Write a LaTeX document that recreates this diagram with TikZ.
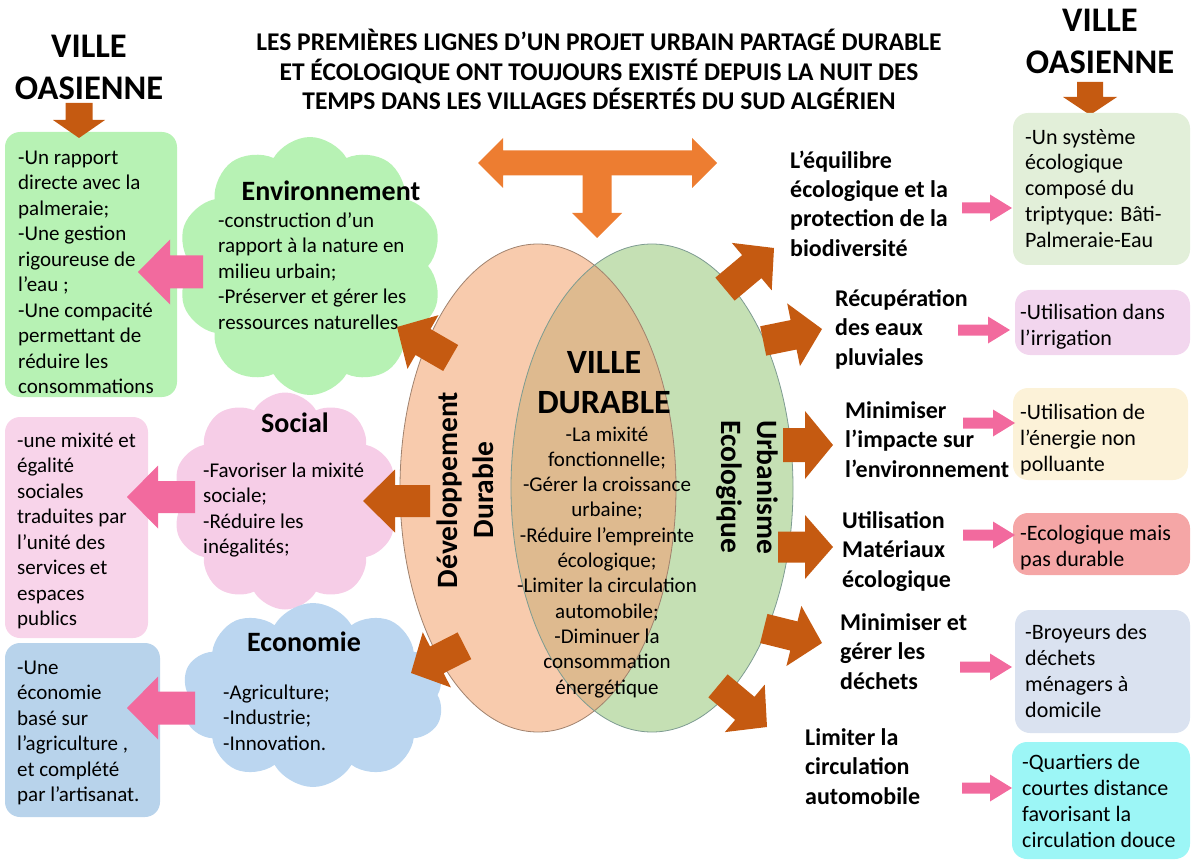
\documentclass[tikz,border=0pt]{standalone}
\usepackage{fontspec}
\setmainfont{Carlito}
\usetikzlibrary{shapes.symbols}
\definecolor{envgreen}{RGB}{183,242,180}
\definecolor{soccloud}{RGB}{246,205,231}
\definecolor{socbox}{RGB}{248,212,234}
\definecolor{ecocloud}{RGB}{187,214,240}
\definecolor{ecobox}{RGB}{184,211,235}
\definecolor{durorange}{RGB}{248,203,173}
\definecolor{urbgreen}{RGB}{197,224,180}
\definecolor{mixtan}{RGB}{222,186,143}
\definecolor{arrbrown}{RGB}{197,90,17}
\definecolor{arrorange}{RGB}{237,125,49}
\definecolor{arrpink}{RGB}{242,106,158}
\definecolor{rboxa}{RGB}{226,239,217}
\definecolor{rboxb}{RGB}{242,214,238}
\definecolor{rboxc}{RGB}{252,242,216}
\definecolor{rboxd}{RGB}{245,166,166}
\definecolor{rboxe}{RGB}{218,226,240}
\definecolor{rboxf}{RGB}{156,246,246}
% block arrow: tip, angle, length, half shaft, half head, head length, colour
\newcommand{\blockarr}[7]{%
  \fill[#7, shift={#1}, rotate=#2] (0,0) -- (-#6,#5) -- (-#6,#4) -- (-#3,#4) -- (-#3,-#4) -- (-#6,-#4) -- (-#6,-#5) -- cycle;}
\begin{document}
\begin{tikzpicture}[x=1pt, y=-1pt, line join=round,
  body/.style={font=\fontsize{21}{25.5}\selectfont, align=left, anchor=base west, inner sep=0pt},
  rbody/.style={body, font=\fontsize{22}{26}\selectfont},
  rhead/.style={font=\bfseries\fontsize{24}{29.5}\selectfont, align=left, anchor=base west, inner sep=0pt},
  ctitle/.style={font=\bfseries\fontsize{28}{32}\selectfont, anchor=base, inner sep=0pt},
  oasis/.style={font=\bfseries\fontsize{34.5}{42}\selectfont, align=center, anchor=base, inner sep=0pt},
  rbox/.style={rectangle, rounded corners=15pt, draw=none, inner sep=0pt},
  puff/.style={cloud, cloud puffs=10, cloud puff arc=120, cloud ignores aspect, draw=none, inner sep=0pt}]
\useasboundingbox (0,0) rectangle (1192,861);

\node[oasis] (oasisL) at (89,100) {VILLE\\OASIENNE};
\node[oasis] (oasisR) at (1100,74) {VILLE\\OASIENNE};
\node[font=\bfseries\fontsize{25.5}{29.5}\selectfont, align=center, anchor=base, inner sep=0pt] (title) at (599,110)
  {LES PREMIÈRES LIGNES D’UN PROJET URBAIN PARTAGÉ DURABLE\\ET ÉCOLOGIQUE ONT TOUJOURS EXISTÉ DEPUIS LA NUIT DES\\TEMPS DANS LES VILLAGES DÉSERTÉS DU SUD ALGÉRIEN};

\node[rbox, fill=envgreen, minimum width=172pt, minimum height=265pt] (bEnv) at (91,264.5) {};
\node[rbox, fill=socbox, minimum width=143pt, minimum height=221pt] (bSoc) at (76.5,527.5) {};
\node[rbox, fill=ecobox, minimum width=155pt, minimum height=174pt] (bEco) at (82.5,730) {};
\node[puff, fill=envgreen, minimum width=265pt, minimum height=258pt] (cEnv) at (310,266) {};
\node[puff, fill=soccloud, minimum width=225pt, minimum height=217pt] (cSoc) at (285,501) {};
\node[puff, fill=ecocloud, minimum width=263pt, minimum height=184pt] (cEco) at (313,695) {};

\node[body] (tEnvBox) at (18,393.5) {-Un rapport\\directe avec la\\palmeraie;\\-Une gestion\\rigoureuse de\\l’eau ;\\-Une compacité\\permettant de\\réduire les\\consommations};
\node[body] (tSocBox) at (17,625.5) {-une mixité et\\égalité\\sociales\\traduites par\\l’unité des\\services et\\espaces\\publics};
\node[body] (tEcoBox) at (17,801.5) {-Une\\économie\\basé sur\\l’agriculture ,\\et complété\\par l’artisanat.};

\node[ctitle] (hEnv) at (331,201) {Environnement};
\node[body] (tEnv) at (218,329) {-construction d’un\\rapport à la nature en\\milieu urbain;\\-Préserver et gérer les\\ressources naturelles};
\node[ctitle] (hSoc) at (295,432) {Social};
\node[body] (tSoc) at (203,553.5) {-Favoriser la mixité\\sociale;\\-Réduire les\\inégalités;};
\node[ctitle] (hEco) at (304,651) {Economie};
\node[body] (tEco) at (223,750) {-Agriculture;\\-Industrie;\\-Innovation.};

\fill[durorange] (538,488) ellipse [x radius=138, y radius=244];
\fill[urbgreen] (652,488) ellipse [x radius=141, y radius=244];
\begin{scope}
  \clip (538,488) ellipse [x radius=138, y radius=244];
  \fill[mixtan] (652,488) ellipse [x radius=141, y radius=244];
\end{scope}
\draw[line width=0.8pt, draw={rgb,255:red,160;green,130;blue,110}] (538,488) ellipse [x radius=138, y radius=244];
\draw[line width=0.8pt, draw={rgb,255:red,125;green,155;blue,145}] (652,488) ellipse [x radius=141, y radius=244];

\node[rotate=90, font=\bfseries\fontsize{29.5}{36}\selectfont, align=center] (dd) at (465,490) {Développement\\Durable};
\node[rotate=-90, font=\bfseries\fontsize{29.5}{36}\selectfont, align=center] (ue) at (747,487) {Urbanisme\\Ecologique};
\node[font=\bfseries\fontsize{34}{40}\selectfont, align=center, anchor=base, inner sep=0pt] (vd) at (604,413) {VILLE\\DURABLE};
\node[font=\fontsize{21}{25.3}\selectfont, align=center, anchor=base, inner sep=0pt] (vdList) at (607,694)
  {-La mixité\\fonctionnelle;\\-Gérer la croissance\\urbaine;\\-Réduire l’empreinte\\écologique;\\-Limiter la circulation\\automobile;\\-Diminuer la\\consommation\\énergétique};

\blockarr{(597,238)}{-90}{75}{14.5}{25}{25}{arrorange}
\fill[arrorange] (478,163) -- (503,138) -- (503,150.5) -- (692,150.5) -- (692,138) -- (717,163)
  -- (692,188) -- (692,175.5) -- (503,175.5) -- (503,188) -- cycle;

\blockarr{(79,138)}{-90}{35}{13.5}{26}{18}{arrbrown}
\blockarr{(1090,115)}{-90}{33}{13}{27}{18}{arrbrown}

\blockarr{(397,327)}{150}{62}{15}{31}{30}{arrbrown}
\blockarr{(363,501)}{180}{67}{16}{31.5}{32}{arrbrown}
\blockarr{(411,673)}{207}{60}{15}{31}{29}{arrbrown}
\blockarr{(774,248)}{40}{64}{15}{31}{29}{arrbrown}
\blockarr{(822,329)}{11.5}{60}{15}{32}{29}{arrbrown}
\blockarr{(833,445)}{0}{50}{17}{34}{28}{arrbrown}
\blockarr{(833,547)}{0}{55}{15.5}{32}{28}{arrbrown}
\blockarr{(822,643)}{-14}{60}{15}{31}{29}{arrbrown}
\blockarr{(767,727)}{-40}{64}{15}{31}{29}{arrbrown}

\blockarr{(138,272)}{180}{65}{16.5}{32.5}{32}{arrpink}
\blockarr{(127,497)}{180}{68}{16}{31.5}{31}{arrpink}
\blockarr{(127,708)}{180}{68}{16.5}{31.5}{31}{arrpink}

\node[rhead] (h1) at (790,256.5) {L’équilibre\\écologique et la\\protection de la\\biodiversité};
\node[rhead] (h2) at (835,365) {Récupération\\des eaux\\pluviales};
\node[rhead] (h3) at (845,477) {Minimiser\\l’impacte sur\\l’environnement};
\node[rhead] (h4) at (842,587) {Utilisation\\Matériaux\\écologique};
\node[rhead] (h5) at (840,689) {Minimiser et\\gérer les\\déchets};
\node[rhead] (h6) at (805,804) {Limiter la\\circulation\\automobile};

\node[rbox, fill=rboxa, minimum width=177pt, minimum height=152pt] (b1) at (1101.5,189) {};
\node[rbox, fill=rboxb, minimum width=175pt, minimum height=65pt] (b2) at (1102.5,322.5) {};
\node[rbox, fill=rboxc, minimum width=175pt, minimum height=92pt] (b3) at (1100.5,434) {};
\node[rbox, fill=rboxd, minimum width=177pt, minimum height=62pt] (b4) at (1101.5,544) {};
\node[rbox, fill=rboxe, minimum width=175pt, minimum height=123pt] (b5) at (1102.5,671.5) {};
\node[rbox, fill=rboxf, minimum width=178pt, minimum height=117pt] (b6) at (1101,800.5) {};

\node[rbody] (t1) at (1025,248) {-Un système\\écologique\\composé du\\triptyque: Bâti-\\Palmeraie-Eau};
\node[rbody] (t2) at (1020,345) {-Utilisation dans\\l’irrigation};
\node[rbody] (t3) at (1020,471) {-Utilisation de\\l’énergie non\\polluante};
\node[rbody] (t4) at (1020,566) {-Ecologique mais\\pas durable};
\node[rbody] (t5) at (1025,717) {-Broyeurs des\\déchets\\ménagers à\\domicile};
\node[rbody] (t6) at (1022,847) {-Quartiers de\\courtes distance\\favorisant la\\circulation douce};

\blockarr{(1012,208)}{0}{50}{5.5}{13.5}{22}{arrpink}
\blockarr{(1010,330)}{0}{52}{5.5}{13.5}{22}{arrpink}
\blockarr{(1015,423)}{0}{52}{5.5}{13.5}{22}{arrpink}
\blockarr{(1015,535)}{0}{52}{5.5}{13.5}{22}{arrpink}
\blockarr{(1012,667)}{0}{52}{5.5}{13.5}{22}{arrpink}
\blockarr{(1012,788)}{0}{50}{5.5}{13.5}{22}{arrpink}
\end{tikzpicture}
\end{document}
